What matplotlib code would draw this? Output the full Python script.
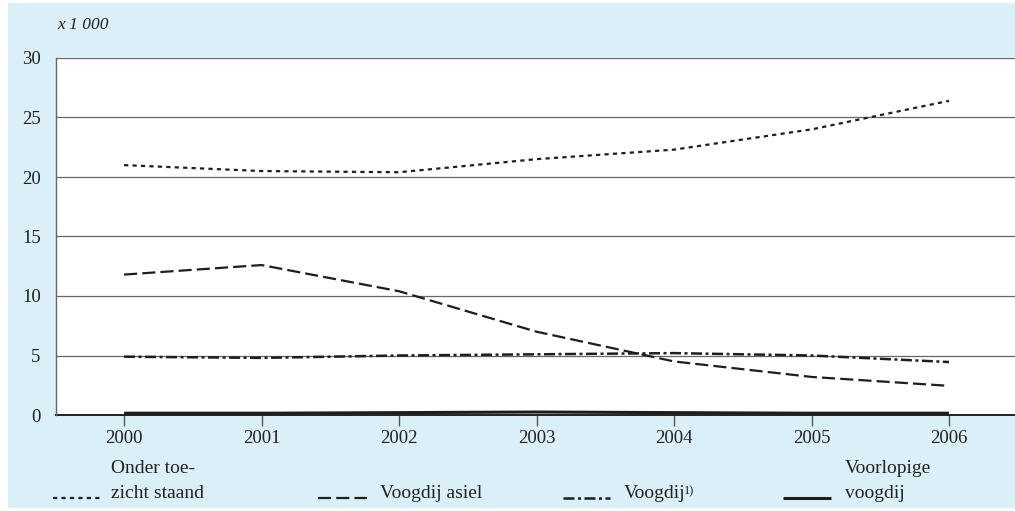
import matplotlib
matplotlib.use("Agg")
import matplotlib.pyplot as plt
from matplotlib.patches import Rectangle
from matplotlib.lines import Line2D

years = [2000, 2001, 2002, 2003, 2004, 2005, 2006]
onder_toezicht = [21.0, 20.5, 20.4, 21.5, 22.3, 24.0, 26.4]
voogdij_asiel = [11.8, 12.6, 10.4, 7.0, 4.5, 3.2, 2.45]
voogdij = [4.9, 4.8, 5.0, 5.1, 5.2, 5.0, 4.45]
voorlopige_voogdij = [0.15, 0.15, 0.2, 0.25, 0.2, 0.15, 0.15]
yticks = [0, 5, 10, 15, 20, 25, 30]
labels = ["Onder toe-\nzicht staand", "Voogdij asiel", "Voogdij", "Voorlopige\nvoogdij"]

FONT = "Liberation Serif"
W, H = 1015, 511
fig = plt.figure(figsize=(W / 100, H / 100), dpi=100)
fig.patch.set_facecolor("white")
bg = "#dbeff9"
fig.patches.append(Rectangle((8 / W, 3 / H), 1 - 8 / W, (508 - 3) / H,
                             transform=fig.transFigure, facecolor=bg,
                             edgecolor="none", zorder=-10))

ax = fig.add_axes([56 / W, (H - 415) / H, 1 - 56 / W, (415 - 58) / H])
ax.set_zorder(1)
ax.set_facecolor("white")
ax.set_xlim(1999.505, 2006.48)
ax.set_ylim(0, 30)

for y in yticks[1:]:
    ax.axhline(y, color="#666666", lw=0.9, zorder=1)

lc = "#1e1e1e"
styles = [
    dict(ls=(0, (1.9, 1.9)), lw=1.6),
    dict(ls=(0, (5.9, 2.3)), lw=1.6),
    dict(ls=(0, (4.4, 1.4, 1.2, 1.4)), lw=1.8),
    dict(ls="-", lw=2.2),
]
series = [onder_toezicht, voogdij_asiel, voogdij, voorlopige_voogdij]
for s, st in zip(series, styles):
    ax.plot(years, s, color=lc, linestyle=st["ls"], lw=st["lw"], zorder=3,
            solid_capstyle="butt", dash_capstyle="butt")

for sp in ["top", "right"]:
    ax.spines[sp].set_visible(False)
ax.spines["left"].set_color("#666666")
ax.spines["left"].set_linewidth(1.0)
ax.spines["bottom"].set_color("#222222")
ax.spines["bottom"].set_linewidth(1.4)
ax.spines["bottom"].set_zorder(2)

ax.set_xticks(years)
ax.set_xticklabels([str(y) for y in years], fontfamily=FONT, fontsize=13.5, color="#222222")
ax.set_yticks(yticks)
ax.set_yticklabels([str(y) for y in yticks], fontfamily=FONT, fontsize=13.5, color="#222222")
ax.tick_params(axis="x", direction="out", length=8, width=1.0, color="#555555", pad=3)
ax.tick_params(axis="y", length=0, pad=11)

fig.text(57 / W, 1 - 25 / H, "x 1 000", fontfamily=FONT, fontstyle="italic",
         fontsize=12.5, color="#222222", va="center", ha="left")

# legend
ly = 1 - 498 / H
samples = [(53, 100), (318, 367), (563, 610), (783, 831)]
for (x0, x1), st in zip(samples, styles):
    fig.lines.append(Line2D([x0 / W, x1 / W], [ly, ly], transform=fig.transFigure,
                            color=lc, linestyle=st["ls"], lw=st["lw"],
                            solid_capstyle="butt", dash_capstyle="butt"))

tx = [111, 380, 624, 845]
fs = 14
fig.text(tx[0] / W, 1 - 481 / H, labels[0], fontfamily=FONT, fontsize=fs, color="#222222",
         va="center", ha="left", linespacing=1.55)
fig.text(tx[1] / W, 1 - 494 / H, labels[1], fontfamily=FONT, fontsize=fs, color="#222222",
         va="center", ha="left")
t3 = fig.text(tx[2] / W, 1 - 494 / H, labels[2], fontfamily=FONT, fontsize=fs, color="#222222",
              va="center", ha="left")
fig.text(tx[3] / W, 1 - 481 / H, labels[3], fontfamily=FONT, fontsize=fs, color="#222222",
         va="center", ha="left", linespacing=1.55)
fig.canvas.draw()
bb = t3.get_window_extent()
fig.text((bb.x1 - 2) / W, 1 - 491 / H, "1)", fontfamily=FONT, fontsize=9, color="#222222",
         va="center", ha="left")

fig.savefig("out.png", dpi=100, facecolor="white")
